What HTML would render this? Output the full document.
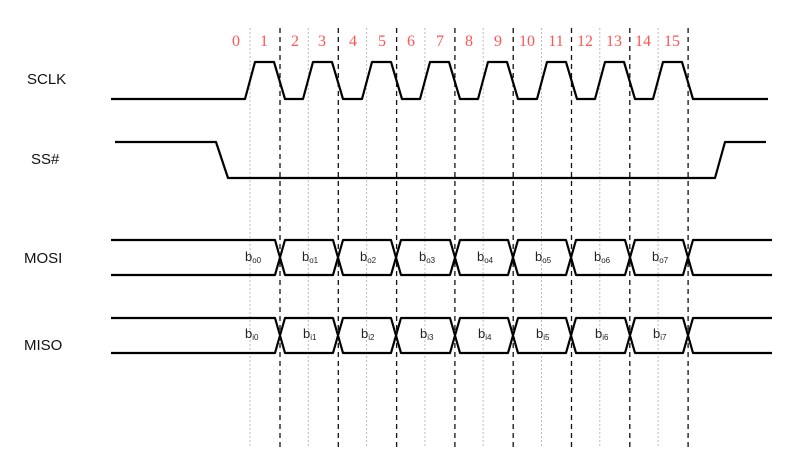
<!DOCTYPE html>
<html><head><meta charset="utf-8"><style>
html,body{margin:0;padding:0;background:#fff}
svg{display:block}
text{font-family:"Liberation Sans",sans-serif}
.n text{fill:#f55;font-family:"Liberation Serif",serif;font-size:16px}
.l{font-size:15px;fill:#111}
.b{font-size:13px;fill:#222}
.s{font-size:8px}
</style></head><body>
<svg width="804" height="463" viewBox="0 0 804 463" xmlns="http://www.w3.org/2000/svg">
<rect width="804" height="463" fill="#fff"/>
<g stroke="#bbb" stroke-width="1" stroke-dasharray="2,2">
<line x1="250" y1="28" x2="250" y2="448"/><line x1="308.3" y1="28" x2="308.3" y2="448"/>
<line x1="366.6" y1="28" x2="366.6" y2="448"/><line x1="424.9" y1="28" x2="424.9" y2="448"/>
<line x1="483.2" y1="28" x2="483.2" y2="448"/><line x1="541.5" y1="28" x2="541.5" y2="448"/>
<line x1="599.8" y1="28" x2="599.8" y2="448"/><line x1="658.1" y1="28" x2="658.1" y2="448"/>
</g>
<g stroke="#111" stroke-width="1.3" stroke-dasharray="5,4">
<line x1="280" y1="28" x2="280" y2="448"/><line x1="338.3" y1="28" x2="338.3" y2="448"/>
<line x1="396.6" y1="28" x2="396.6" y2="448"/><line x1="454.9" y1="28" x2="454.9" y2="448"/>
<line x1="513.2" y1="28" x2="513.2" y2="448"/><line x1="571.5" y1="28" x2="571.5" y2="448"/>
<line x1="629.8" y1="28" x2="629.8" y2="448"/><line x1="688.1" y1="28" x2="688.1" y2="448"/>
</g>
<g class="n" text-anchor="middle">
<text x="236" y="46">0</text><text x="264" y="46">1</text>
<text x="295" y="46">2</text><text x="322" y="46">3</text>
<text x="353" y="46">4</text><text x="382" y="46">5</text>
<text x="411" y="46">6</text><text x="440" y="46">7</text>
<text x="469" y="46">8</text><text x="498" y="46">9</text>
<text x="527" y="46">10</text><text x="556" y="46">11</text>
<text x="585" y="46">12</text><text x="614" y="46">13</text>
<text x="643" y="46">14</text><text x="672" y="46">15</text>
</g>
<g class="l">
<text x="27" y="84">SCLK</text><text x="31" y="164">SS#</text>
<text x="24" y="263">MOSI</text><text x="24" y="350">MISO</text>
</g>
<g fill="none" stroke="#000" stroke-width="2.2" stroke-linejoin="round">
<polyline points="111,99 245,99 255,62 274,62 285,99 303,99 313,62 332,62 343,99 362,99 372,62 391,62 402,99 420,99 430,62 449,62 460,99 478,99 488,62 507,62 518,99 537,99 547,62 566,62 577,99 595,99 605,62 624,62 635,99 653,99 663,62 682,62 693,99 768,99"/>
<polyline points="115,142 216,142 228,178 715,178 725,142 766,142"/>
<path d="M111,240 L275,240 L285,275 L333,275 L343,240 L391,240 L401,275 L450,275 L460,240 L508,240 L518,275 L566,275 L576,240 L625,240 L635,275 L683,275 L693,240 L772,240 M111,275 L275,275 L285,240 L333,240 L343,275 L391,275 L401,240 L450,240 L460,275 L508,275 L518,240 L566,240 L576,275 L625,275 L635,240 L683,240 L693,275 L772,275"/>
<path d="M111,318 L275,318 L285,353 L333,353 L343,318 L391,318 L401,353 L450,353 L460,318 L508,318 L518,353 L566,353 L576,318 L625,318 L635,353 L683,353 L693,318 L772,318 M111,353 L275,353 L285,318 L333,318 L343,353 L391,353 L401,318 L450,318 L460,353 L508,353 L518,318 L566,318 L576,353 L625,353 L635,318 L683,318 L693,353 L772,353"/>
</g>
<g class="b">
<text x="245" y="261">b<tspan class="s" dy="2">o0</tspan></text>
<text x="302" y="261">b<tspan class="s" dy="2">o1</tspan></text>
<text x="360" y="261">b<tspan class="s" dy="2">o2</tspan></text>
<text x="419" y="261">b<tspan class="s" dy="2">o3</tspan></text>
<text x="477" y="261">b<tspan class="s" dy="2">o4</tspan></text>
<text x="535" y="261">b<tspan class="s" dy="2">o5</tspan></text>
<text x="594" y="261">b<tspan class="s" dy="2">o6</tspan></text>
<text x="652" y="261">b<tspan class="s" dy="2">o7</tspan></text>
<text x="245" y="338">b<tspan class="s" dy="2">i0</tspan></text>
<text x="303" y="338">b<tspan class="s" dy="2">i1</tspan></text>
<text x="361" y="338">b<tspan class="s" dy="2">i2</tspan></text>
<text x="420" y="338">b<tspan class="s" dy="2">i3</tspan></text>
<text x="478" y="338">b<tspan class="s" dy="2">i4</tspan></text>
<text x="536" y="338">b<tspan class="s" dy="2">i5</tspan></text>
<text x="595" y="338">b<tspan class="s" dy="2">i6</tspan></text>
<text x="653" y="338">b<tspan class="s" dy="2">i7</tspan></text>
</g>
</svg>
</body></html>
